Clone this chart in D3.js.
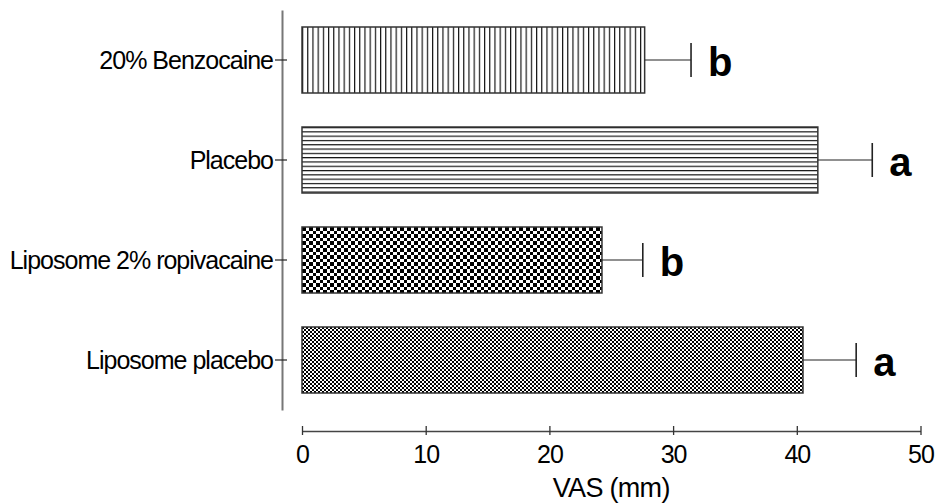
<!DOCTYPE html>
<html>
<head>
<meta charset="utf-8">
<script src="https://cdn.jsdelivr.net/npm/d3@7"></script>
<style>
html,body{margin:0;padding:0;background:#fff;}
svg{display:block;}
text{font-family:"Liberation Sans",Arial,Helvetica,sans-serif;}
</style>
</head>
<body>
<svg id="chart" width="940" height="503"></svg>
<script>
const categories = ["20% Benzocaine", "Placebo", "Liposome 2% ropivacaine", "Liposome placebo"];
const means = [27.7, 41.7, 24.25, 40.5];
const sems = [3.75, 4.4, 3.3, 4.3];
const letters = ["b", "a", "b", "a"];
const patterns = ["vlines", "hlines", "checker3", "checker2"];
const xTicks = [0, 10, 20, 30, 40, 50];
const xTitle = "VAS (mm)";

const svg = d3.select("#chart");
const x = d3.scaleLinear().domain([0, 50]).range([302, 920.5]);
const y = d3.scaleBand().domain(categories).range([10, 410]).paddingInner(0.34).paddingOuter(0.17);

const defs = svg.append("defs");
// vertical lines
const pv = defs.append("pattern").attr("id","vlines").attr("patternUnits","userSpaceOnUse")
  .attr("x",302).attr("y",0).attr("width",5.2).attr("height",10);
pv.append("rect").attr("width",5.2).attr("height",10).attr("fill","#fff");
pv.append("line").attr("x1",0.6).attr("x2",0.6).attr("y1",0).attr("y2",10).attr("stroke","#000").attr("stroke-width",1.1);
// horizontal lines
const ph = defs.append("pattern").attr("id","hlines").attr("patternUnits","userSpaceOnUse")
  .attr("x",0).attr("y",y("Placebo")).attr("width",10).attr("height",4.3);
ph.append("rect").attr("width",10).attr("height",4.3).attr("fill","#fff");
ph.append("line").attr("x1",0).attr("x2",10).attr("y1",0.6).attr("y2",0.6).attr("stroke","#000").attr("stroke-width",1.1);
// checkerboards
function checker(id, s, y0){
  const p = defs.append("pattern").attr("id",id).attr("patternUnits","userSpaceOnUse")
    .attr("x",302).attr("y",y0).attr("width",2*s).attr("height",2*s);
  p.append("rect").attr("width",2*s).attr("height",2*s).attr("fill","#fff");
  p.append("rect").attr("x",0).attr("y",0).attr("width",s).attr("height",s).attr("fill","#000").attr("shape-rendering","crispEdges");
  p.append("rect").attr("x",s).attr("y",s).attr("width",s).attr("height",s).attr("fill","#000").attr("shape-rendering","crispEdges");
}
checker("checker3", 3.5, Math.round(y("Liposome 2% ropivacaine")));
checker("checker2", 2, Math.round(y("Liposome placebo")));

// bars
const bars = svg.append("g");
categories.forEach((c, i) => {
  bars.append("rect")
    .attr("x", x(0)).attr("y", y(c))
    .attr("width", x(means[i]) - x(0)).attr("height", y.bandwidth())
    .attr("fill", `url(#${patterns[i]})`)
    .attr("stroke", "#333").attr("stroke-width", 1.5);
  const cy = y(c) + y.bandwidth() / 2;
  const xe = x(means[i] + sems[i]);
  bars.append("line").attr("x1", x(means[i])).attr("x2", xe).attr("y1", cy).attr("y2", cy)
    .attr("stroke", "#222").attr("stroke-width", 1.2);
  bars.append("line").attr("x1", xe).attr("x2", xe).attr("y1", cy - 17).attr("y2", cy + 17)
    .attr("stroke", "#222").attr("stroke-width", 1.6);
  bars.append("text").attr("x", xe + 17).attr("y", cy + 16)
    .attr("font-size", 40).attr("font-weight", "bold").attr("fill", "#000")
    .text(letters[i]);
});

// y axis
const ya = svg.append("g").attr("transform", "translate(282,0)")
  .call(d3.axisLeft(y).tickSizeInner(7).tickSizeOuter(0).tickPadding(2));
ya.select(".domain").attr("stroke", "#777").attr("stroke-width", 2);
ya.selectAll(".tick line").attr("x2", 5).attr("x1", -7).attr("stroke", "#222").attr("stroke-width", 1.2);
ya.selectAll(".tick text").attr("font-size", 25).attr("fill", "#000").attr("dy", "0.34em")
  .style("font-family", '"Liberation Sans",Arial,sans-serif').attr("letter-spacing", "-1px");

// x axis
const xa = svg.append("g").attr("transform", "translate(0,431)")
  .call(d3.axisBottom(x).tickValues(xTicks).tickSizeInner(4).tickSizeOuter(0).tickPadding(10));
xa.select(".domain").attr("stroke", "#444").attr("stroke-width", 1.5);
xa.selectAll(".tick line").attr("y1", -5).attr("stroke", "#333").attr("stroke-width", 1.3);
xa.selectAll(".tick text").attr("font-size", 25).attr("fill", "#000")
  .style("font-family", '"Liberation Sans",Arial,sans-serif').attr("letter-spacing", "-1px");

svg.append("text").attr("x", (x(0) + x(50)) / 2).attr("y", 497)
  .attr("text-anchor", "middle").attr("font-size", 27).attr("fill", "#000")
  .attr("letter-spacing", "-0.7px")
  .text(xTitle);
</script>
</body>
</html>
